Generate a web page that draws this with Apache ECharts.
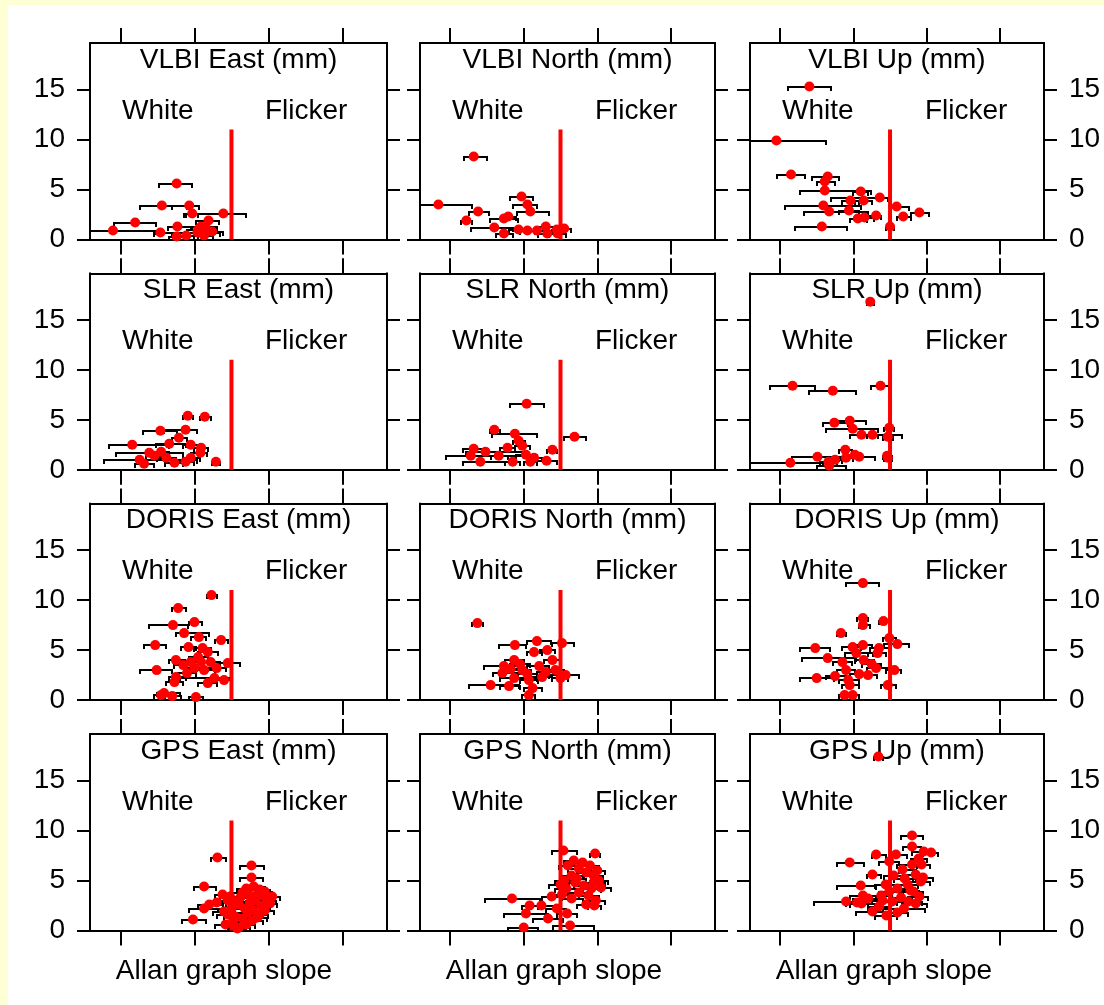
<!DOCTYPE html>
<html>
<head>
<meta charset="utf-8">
<script src="https://cdn.jsdelivr.net/npm/echarts@6/dist/echarts.min.js"></script>
<style>
html,body{margin:0;padding:0;background:#FFFFD6;}
#chart{width:1104px;height:1005px;}
</style>
</head>
<body>
<div id="chart"></div>
<script>
// ---- data: [slope, value (mm), slope low, slope high] ----
const vlbiEast = [
[-1.24,5.6,-1.48,-1.03],[-1.44,3.4,-1.74,-1.10],[-1.07,3.4,-1.30,-0.94],[-1.03,2.6,-1.12,-0.95],
[-0.61,2.6,-1.14,-0.31],[-1.80,1.7,-2.08,-1.52],[-2.10,0.9,-2.45,-1.52],[-0.81,1.9,-0.98,-0.67],
[-0.91,1.3,-1.05,-0.70],[-0.95,1.0,-1.10,-0.80],[-1.46,0.7,-1.55,-1.30],[-1.23,1.3,-1.36,-1.03],
[-1.24,0.3,-1.35,-1.10],[-1.11,0.4,-1.20,-0.95],[-0.87,0.4,-1.00,-0.75],[-0.76,0.8,-0.90,-0.62],
[-0.96,0.7,-1.30,-0.65],[-0.85,1.2,-0.95,-0.75]
];
const vlbiNorth = [
[-1.68,8.3,-1.81,-1.50],[-2.16,3.5,-2.45,-1.70],[-1.62,2.8,-1.74,-1.47],[-1.78,1.9,-1.85,-1.70],
[-1.03,4.3,-1.18,-0.87],[-0.95,3.5,-1.14,-0.82],[-0.91,2.8,-1.09,-0.66],[-1.27,2.1,-1.46,-1.08],
[-1.21,2.3,-1.30,-1.10],[-1.40,1.2,-1.71,-1.15],[-1.27,0.6,-1.38,-1.15],[-1.07,1.0,-1.20,-0.95],
[-0.95,0.9,-1.05,-0.85],[-0.82,0.9,-0.95,-0.70],[-0.70,1.3,-0.82,-0.58],[-0.68,0.6,-0.80,-0.55],
[-0.54,0.6,-0.65,-0.42],[-0.45,1.1,-0.55,-0.36],[-0.55,1.0,-0.62,-0.45]
];
const vlbiUp = [
[-1.60,15.3,-1.89,-1.30],[-2.05,9.9,-2.45,-1.37],[-1.85,6.5,-2.04,-1.66],[-1.35,6.3,-1.57,-1.19],
[-1.39,5.8,-1.50,-1.25],[-1.39,4.9,-1.73,-0.76],[-0.90,4.8,-1.00,-0.80],[-0.64,4.2,-1.30,-0.53],
[-1.04,3.9,-1.15,-0.92],[-0.86,3.9,-0.98,-0.75],[-1.41,3.4,-1.93,-0.89],[-1.33,2.8,-1.68,-0.80],
[-1.06,2.9,-1.20,-0.92],[-0.94,2.1,-1.05,-0.82],[-0.85,2.2,-0.95,-0.72],[-0.69,2.4,-0.85,-0.62],
[-0.41,3.3,-0.49,-0.24],[-0.32,2.3,-0.40,-0.22],[-0.10,2.7,-0.22,0.03],[-1.43,1.3,-1.79,-1.09],
[-0.50,1.3,-0.55,-0.45]
];
const slrEast = [
[-1.09,5.4,-1.15,-1.02],[-0.86,5.3,-0.92,-0.78],[-1.46,3.9,-1.70,-1.23],[-1.12,4.0,-1.41,-0.97],
[-1.21,3.2,-1.30,-1.10],[-1.84,2.5,-2.15,-1.34],[-1.34,2.6,-1.52,-1.12],[-1.05,2.5,-1.15,-0.95],
[-0.91,2.2,-1.00,-0.82],[-1.61,1.7,-2.06,-1.16],[-1.45,1.8,-1.55,-1.35],[-0.92,1.7,-1.05,-0.83],
[-1.54,1.4,-1.65,-1.40],[-1.74,1.0,-2.22,-0.96],[-1.68,0.6,-1.80,-1.55],[-1.27,0.7,-1.40,-1.15],
[-1.12,0.8,-1.25,-1.00],[-1.05,1.2,-1.15,-0.92],[-0.71,0.8,-0.76,-0.66],[-1.38,1.2,-1.50,-1.25]
];
const slrNorth = [
[-0.96,6.6,-1.18,-0.72],[-1.40,4.0,-1.46,-1.32],[-1.12,3.6,-1.43,-0.82],[-1.07,2.9,-1.15,-0.98],
[-1.02,2.4,-1.12,-0.92],[-0.31,3.3,-0.45,-0.16],[-1.68,2.1,-1.83,-1.48],[-1.22,2.2,-1.32,-1.12],
[-1.52,1.8,-1.78,-0.98],[-0.61,2.0,-0.68,-0.55],[-1.72,1.4,-2.06,-0.93],[-1.34,1.4,-1.45,-1.22],
[-0.97,1.5,-1.10,-0.82],[-0.86,1.2,-0.95,-0.75],[-1.59,0.8,-1.83,-1.05],[-1.15,0.8,-1.25,-1.05],
[-0.91,0.8,-1.00,-0.82],[-0.69,0.9,-0.90,-0.55]
];
const slrUp = [
[-0.77,16.8,-0.82,-0.72],[-1.83,8.4,-2.14,-1.52],[-1.28,7.9,-1.61,-0.96],[-0.63,8.4,-0.76,-0.51],
[-1.26,4.7,-1.42,-1.08],[-1.05,4.9,-1.21,-0.83],[-1.01,4.1,-1.38,-0.66],[-0.89,3.5,-1.05,-0.33],
[-0.51,4.2,-0.58,-0.44],[-0.53,3.3,-0.60,-0.46],[-0.74,3.5,-0.82,-0.66],[-1.11,2.0,-1.20,-1.02],
[-1.49,1.3,-1.84,-1.10],[-1.86,0.7,-2.45,-1.41],[-1.33,0.4,-1.50,-1.10],[-1.25,1.0,-1.35,-1.15],
[-1.10,1.2,-1.20,-1.00],[-0.92,1.3,-1.19,-0.71],[-0.98,1.5,-1.05,-0.90],[-0.54,1.4,-0.60,-0.48],
[-0.53,1.2,-0.58,-0.48],[-1.34,0.8,-1.45,-1.22]
];
const dorisEast = [
[-0.77,10.5,-0.83,-0.70],[-1.22,9.2,-1.30,-1.12],[-1.29,7.5,-1.61,-1.09],[-1.00,7.8,-1.07,-0.90],
[-1.14,6.7,-1.25,-0.80],[-0.94,6.3,-1.05,-0.85],[-0.64,6.0,-0.72,-0.55],[-1.53,5.5,-1.68,-1.38],
[-1.08,5.3,-1.18,-0.98],[-0.89,5.2,-1.00,-0.78],[-0.82,4.8,-0.95,-0.68],[-1.25,4.0,-1.35,-1.13],
[-1.05,3.8,-1.18,-0.92],[-0.91,3.8,-1.10,-0.68],[-0.78,3.8,-0.88,-0.65],[-0.55,3.7,-0.68,-0.38],
[-1.51,3.0,-1.74,-1.30],[-1.00,3.2,-1.12,-0.88],[-0.87,3.0,-1.02,-0.72],[-1.25,2.3,-1.35,-1.12],
[-0.73,2.2,-1.20,-0.50],[-0.60,2.0,-0.70,-0.50],[-0.82,1.7,-0.95,-0.70],[-1.27,1.8,-1.38,-1.15],
[-1.41,0.7,-1.50,-1.20],[-1.30,0.4,-1.40,-1.18],[-0.98,0.3,-1.08,-0.88],[-1.45,0.5,-1.55,-1.35],
[-0.95,4.3,-1.08,-0.82],[-1.15,3.5,-1.28,-1.02],[-0.70,3.2,-0.82,-0.58],[-1.10,2.7,-1.22,-0.98]
];
const dorisNorth = [
[-1.63,7.7,-1.70,-1.55],[-1.12,5.5,-1.34,-0.97],[-0.82,5.9,-0.95,-0.63],[-0.48,5.7,-0.61,-0.32],
[-0.86,4.8,-0.95,-0.75],[-0.68,5.0,-0.78,-0.58],[-0.61,4.0,-0.72,-0.50],[-1.13,4.0,-1.25,-1.00],
[-1.27,3.4,-1.54,-1.02],[-0.79,3.4,-0.95,-0.65],[-1.02,3.0,-1.15,-0.90],[-1.29,2.7,-1.42,-0.98],
[-0.70,2.8,-0.82,-0.55],[-0.57,3.0,-0.70,-0.45],[-0.43,2.5,-0.66,-0.25],[-1.13,2.2,-1.32,-0.82],
[-0.93,2.0,-1.05,-0.80],[-1.45,1.5,-1.74,-1.07],[-1.20,1.4,-1.32,-1.05],[-0.88,1.2,-1.00,-0.75],
[-0.93,0.5,-1.02,-0.85],[-0.75,2.3,-0.88,-0.62],[-1.05,3.6,-1.18,-0.92],[-0.95,2.6,-1.08,-0.82],
[-1.18,3.1,-1.30,-1.05],[-0.50,2.2,-0.62,-0.40]
];
const dorisUp = [
[-0.87,11.7,-1.10,-0.65],[-0.87,8.2,-0.95,-0.80],[-0.87,7.5,-0.92,-0.78],[-0.59,7.9,-0.65,-0.50],
[-1.17,6.7,-1.22,-1.10],[-0.51,6.2,-0.60,-0.42],[-0.40,5.6,-0.58,-0.24],[-1.52,5.2,-1.73,-1.32],
[-1.01,5.3,-1.15,-0.90],[-0.87,5.5,-0.98,-0.75],[-0.65,5.2,-0.78,-0.52],[-0.96,4.7,-1.12,-0.73],
[-1.35,4.2,-1.70,-0.96],[-0.86,4.0,-0.98,-0.72],[-0.67,4.7,-0.80,-0.55],[-1.10,3.0,-1.22,-0.98],
[-0.69,3.2,-0.82,-0.42],[-1.50,2.2,-1.73,-1.27],[-1.25,2.4,-1.38,-1.10],[-0.92,2.6,-1.05,-0.78],
[-1.07,2.0,-1.20,-0.92],[-0.80,2.5,-0.92,-0.68],[-0.53,1.5,-0.62,-0.42],[-1.05,1.5,-1.15,-0.92],
[-1.12,0.5,-1.20,-0.98],[-1.01,0.5,-1.10,-0.92],[-0.44,3.0,-0.55,-0.35],[-1.15,3.8,-1.28,-1.02],
[-0.75,3.6,-0.88,-0.62]
];
const gpsEast = [
[-0.69,7.3,-0.78,-0.58],[-0.23,6.5,-0.39,-0.06],[-0.23,5.3,-0.39,-0.08],[-0.87,4.4,-1.01,-0.71],
[-0.87,2.2,-1.08,-0.60],[-1.02,1.1,-1.17,-0.85],[-0.80,2.6,-0.95,-0.62],[-0.62,3.6,-0.72,-0.50],
[-0.55,3.0,-0.70,-0.40],[-0.50,2.2,-0.68,-0.30],[-0.45,1.4,-0.60,-0.28],[-0.58,0.6,-0.72,-0.42],
[-0.40,0.3,-0.55,-0.25],[-0.35,3.8,-0.50,-0.18],[-0.30,4.2,-0.42,-0.15],[-0.20,4.4,-0.32,-0.05],
[-0.12,4.1,-0.25,0.02],[-0.08,3.5,-0.22,0.05],[-0.02,3.0,-0.15,0.10],[0.02,2.7,-0.10,0.12],
[-0.10,2.5,-0.22,0.02],[-0.18,3.0,-0.30,-0.05],[-0.25,2.8,-0.40,-0.12],[-0.32,2.2,-0.45,-0.18],
[-0.40,2.6,-0.52,-0.25],[-0.28,1.8,-0.42,-0.15],[-0.20,2.0,-0.32,-0.08],[-0.12,1.6,-0.25,0.00],
[-0.05,2.0,-0.18,0.08],[-0.35,1.2,-0.48,-0.20],[-0.22,1.0,-0.35,-0.08],[-0.15,1.3,-0.28,-0.02],
[-0.48,0.9,-0.62,-0.35],[-0.30,0.6,-0.42,-0.18],[-0.52,3.4,-0.65,-0.40],[-0.45,2.9,-0.58,-0.30],
[-0.38,3.3,-0.52,-0.25],[-0.60,1.9,-0.75,-0.48],[-0.70,2.8,-0.85,-0.58],[-0.15,3.6,-0.28,-0.02],
[-0.05,3.9,-0.18,0.05],[0.05,3.4,-0.05,0.15],[-0.25,3.5,-0.38,-0.12],[-0.42,0.2,-0.55,-0.30],
[-0.55,1.6,-0.70,-0.42]
];
const gpsNorth = [
[-1.16,3.2,-1.53,-0.78],[-0.62,3.4,-0.75,-0.48],[-0.92,2.5,-1.02,-0.80],[-0.97,1.7,-1.27,-0.67],
[-0.67,1.2,-0.88,-0.47],[-1.00,0.3,-1.22,-0.80],[-0.37,0.5,-0.60,-0.04],[-0.41,1.7,-0.55,-0.28],
[-0.04,2.5,-0.12,0.05],[-0.76,2.5,-0.90,-0.60],[-0.46,8.0,-0.61,-0.27],[-0.03,7.7,-0.10,0.03],
[-0.32,7.0,-0.45,-0.20],[-0.25,6.2,-0.40,-0.10],[-0.15,5.8,-0.28,-0.02],[-0.05,5.5,-0.18,0.08],
[0.02,5.0,-0.10,0.15],[-0.35,5.5,-0.50,-0.20],[-0.45,5.0,-0.58,-0.30],[-0.30,4.8,-0.45,-0.15],
[-0.18,4.5,-0.32,-0.05],[-0.08,4.2,-0.20,0.05],[0.05,4.3,-0.08,0.18],[-0.42,4.2,-0.58,-0.28],
[-0.25,3.8,-0.40,-0.10],[-0.12,3.5,-0.25,0.02],[-0.02,3.0,-0.15,0.10],[-0.35,3.2,-0.50,-0.20],
[-0.48,3.6,-0.62,-0.35],[-0.20,6.8,-0.32,-0.08],[-0.10,6.5,-0.22,0.02],[0.00,6.0,-0.12,0.10],
[-0.40,6.5,-0.52,-0.28],[-0.28,5.2,-0.40,-0.15],[-0.50,4.6,-0.65,-0.38],[-0.15,2.6,-0.28,-0.02],
[-0.55,2.2,-0.70,-0.42],[-0.05,4.8,-0.18,0.10]
];
const gpsUp = [
[-0.66,17.4,-0.72,-0.60],[-0.20,9.5,-0.35,-0.05],[-0.20,8.4,-0.32,-0.08],[-0.04,7.9,-0.20,0.10],
[0.06,7.8,-0.05,0.15],[-1.05,6.8,-1.23,-0.85],[-0.69,7.6,-0.75,-0.55],[-0.42,7.6,-0.48,-0.27],
[-0.51,6.9,-0.65,-0.38],[-0.20,6.6,-0.40,-0.13],[-0.11,7.2,-0.22,0.00],[-0.33,6.1,-0.38,-0.15],
[-0.74,5.6,-0.82,-0.62],[-0.15,5.6,-0.28,-0.02],[-0.08,4.9,-0.22,0.05],[-0.90,4.5,-1.23,-0.69],
[-0.56,4.6,-0.70,-0.42],[-0.40,4.2,-0.55,-0.25],[-0.26,4.6,-0.40,-0.12],[-0.18,3.9,-0.32,-0.05],
[-0.87,3.5,-1.05,-0.69],[-1.10,2.9,-1.54,-0.96],[-0.89,2.7,-1.05,-0.70],[-0.74,1.9,-0.96,-0.51],
[-0.47,2.9,-0.65,-0.07],[-0.31,2.2,-0.60,-0.02],[-0.15,2.7,-0.33,0.00],[-0.62,3.5,-0.75,-0.48],
[-0.51,3.9,-0.65,-0.38],[-0.07,6.6,-0.20,0.05],[-0.30,5.2,-0.45,-0.15],[-0.45,5.5,-0.58,-0.32],
[-0.60,3.0,-0.75,-0.45],[-0.35,3.3,-0.50,-0.20],[-0.65,2.4,-0.80,-0.50],[-0.25,2.9,-0.40,-0.10],
[-0.10,3.4,-0.25,0.02],[-0.40,1.8,-0.55,-0.25],[-0.55,1.5,-0.70,-0.40],[-0.80,3.2,-1.00,-0.62],
[-0.05,5.3,-0.18,0.08],[-0.22,4.0,-0.35,-0.10],[-0.95,2.8,-1.10,-0.80]
];

const systems = ['VLBI', 'SLR', 'DORIS', 'GPS'];
const components = ['East', 'North', 'Up'];
const panels = [
  [vlbiEast, vlbiNorth, vlbiUp],
  [slrEast, slrNorth, slrUp],
  [dorisEast, dorisNorth, dorisUp],
  [gpsEast, gpsNorth, gpsUp]
];
const xTicks = [-2, -1, 0, 1];
const yTicks = [0, 5, 10, 15];
const boundarySlope = -0.5;      // white / flicker boundary
const boundaryTop = 11;
const regionLabels = ['White', 'Flicker'];
const xName = 'Allan graph slope';

// ---- layout ----
const colLeft = [90, 420, 750];
const colWidth = [297, 295, 294];
const rowTop = [43, 273.3, 503.6, 734];
const rowHeight = 196.5;
const xMin = -2.41, xMax = 1.6, yMin = 0, yMax = 19.65;
const FONT = "'Liberation Sans', Arial, sans-serif";
const FS = 28;

const grid = [], xAxis = [], yAxis = [], series = [], graphic = [];
graphic.push({type:'rect', left: 8, top: 5, shape:{width: 1096, height: 1000}, style:{fill:'#ffffff'}, z: -10, silent: true});

const axisLine = {show: true, onZero: false, lineStyle: {color: '#000', width: 2}};
for (let r = 0; r < 4; r++) {
  for (let c = 0; c < 3; c++) {
    const i = r * 3 + c;
    grid.push({left: colLeft[c], top: rowTop[r], width: colWidth[c], height: rowHeight, containLabel: false});
    ['bottom', 'top'].forEach(pos => xAxis.push({
      type: 'value', gridIndex: i, position: pos, min: xMin, max: xMax,
      axisLine: axisLine,
      axisTick: {show: true, inside: false, length: 15, customValues: xTicks, lineStyle: {color: '#000', width: 2}},
      axisLabel: {show: false},
      splitLine: {show: false}
    }));
    ['left', 'right'].forEach(pos => {
      const showLab = (pos === 'left' && c === 0) || (pos === 'right' && c === 2);
      yAxis.push({
        type: 'value', gridIndex: i, position: pos, min: yMin, max: yMax,
        axisLine: axisLine,
        axisTick: {show: true, inside: false, length: 13, customValues: yTicks, lineStyle: {color: '#000', width: 2}},
        axisLabel: {show: showLab, customValues: yTicks, margin: 25, color: '#000', fontSize: FS, fontFamily: FONT},
        splitLine: {show: false}
      });
    });
    const data = panels[r][c];
    series.push({
      type: 'custom', xAxisIndex: 2 * i, yAxisIndex: 2 * i, clip: true, z: 2, silent: true,
      encode: {x: [0, 2, 3], y: 1},
      data: data,
      renderItem: function (params, api) {
        const yv = api.value(1);
        const a = api.coord([api.value(2), yv]);
        const b = api.coord([api.value(3), yv]);
        const y = Math.round(a[1]);
        const x1 = Math.round(a[0]), x2 = Math.round(b[0]);
        const st = {stroke: '#000', lineWidth: 2};
        return {type: 'group', children: [
          {type: 'line', shape: {x1: x1, y1: y, x2: x2, y2: y}, style: st},
          {type: 'line', shape: {x1: x1, y1: y - 1, x2: x1, y2: y + 4}, style: st},
          {type: 'line', shape: {x1: x2, y1: y - 1, x2: x2, y2: y + 4}, style: st}
        ]};
      }
    });
    series.push({
      type: 'line', xAxisIndex: 2 * i, yAxisIndex: 2 * i, z: 3, silent: true,
      data: [[boundarySlope, 0], [boundarySlope, boundaryTop]],
      symbol: 'none', lineStyle: {color: '#ff0000', width: 4}
    });
    series.push({
      type: 'scatter', xAxisIndex: 2 * i, yAxisIndex: 2 * i, z: 4, silent: true,
      data: data.map(d => [d[0], d[1]]),
      symbol: 'circle', symbolSize: 10, itemStyle: {color: '#ff0000', opacity: 1}
    });
    // texts
    const L = colLeft[c], T = rowTop[r];
    graphic.push({type: 'text', x: L + colWidth[c] / 2, y: T + 17,
      style: {text: systems[r] + ' ' + components[c] + ' (mm)', font: FS + 'px ' + FONT, fill: '#000', textAlign: 'center', textVerticalAlign: 'middle'}, silent: true});
    graphic.push({type: 'text', x: L + 32, y: T + 68,
      style: {text: regionLabels[0], font: FS + 'px ' + FONT, fill: '#000', textAlign: 'left', textVerticalAlign: 'middle'}, silent: true});
    graphic.push({type: 'text', x: L + 175, y: T + 68,
      style: {text: regionLabels[1], font: FS + 'px ' + FONT, fill: '#000', textAlign: 'left', textVerticalAlign: 'middle'}, silent: true});
    if (r === 3) {
      graphic.push({type: 'text', x: L + 134, y: 971,
        style: {text: xName, font: FS + 'px ' + FONT, fill: '#000', textAlign: 'center', textVerticalAlign: 'middle'}, silent: true});
    }
  }
}

const chart = echarts.init(document.getElementById('chart'), null, {renderer: 'canvas'});
chart.setOption({
  animation: false,
  backgroundColor: 'transparent',
  grid, xAxis, yAxis, series, graphic
});
</script>
</body>
</html>
